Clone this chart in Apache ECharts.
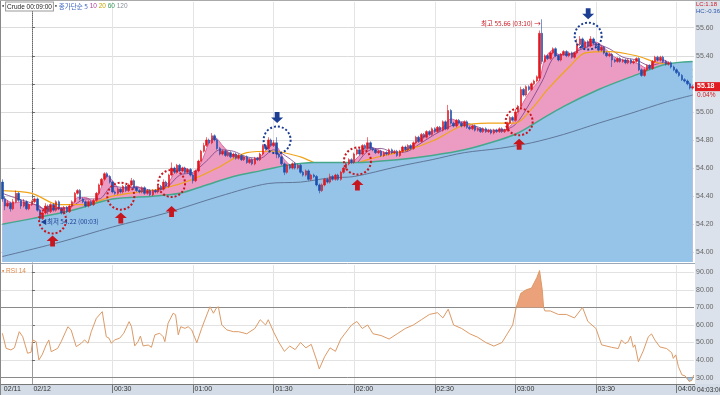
<!DOCTYPE html>
<html><head><meta charset="utf-8">
<script src="https://cdn.jsdelivr.net/npm/echarts@6/dist/echarts.min.js"></script>
<style>html,body{margin:0;padding:0;background:#fff;}#c{width:720px;height:395px;}</style>
</head><body><div id="c"></div>
<script>
// ---- data ----
const firstMinute = -11; // 23:49 on 02/11 (minutes relative to 02/12 00:00)
// [open, close, low, high], one per minute
const candles = [
[54.50,54.38,54.36,54.52],[54.38,54.33,54.30,54.40],[54.33,54.35,54.32,54.37],[54.35,54.31,54.29,54.36],[54.31,54.36,54.30,54.38],
[54.36,54.42,54.35,54.44],[54.42,54.37,54.36,54.43],[54.37,54.33,54.31,54.38],[54.33,54.36,54.32,54.38],[54.36,54.31,54.30,54.37],
[54.31,54.34,54.30,54.35],[54.34,54.36,54.33,54.37],[54.36,54.38,54.35,54.39],[54.38,54.30,54.29,54.39],[54.30,54.24,54.22,54.31],
[54.24,54.28,54.23,54.30],[54.28,54.33,54.27,54.35],[54.33,54.29,54.27,54.34],[54.29,54.34,54.28,54.35],[54.34,54.30,54.29,54.35],
[54.30,54.36,54.29,54.37],[54.36,54.31,54.30,54.37],[54.31,54.28,54.27,54.32],[54.28,54.32,54.27,54.33],[54.32,54.29,54.28,54.33],
[54.29,54.33,54.28,54.34],[54.33,54.36,54.32,54.37],[54.36,54.42,54.35,54.43],[54.42,54.44,54.41,54.45],[54.44,54.38,54.37,54.45],
[54.38,54.36,54.35,54.39],[54.36,54.33,54.32,54.37],[54.33,54.36,54.32,54.37],[54.36,54.34,54.33,54.37],[54.34,54.37,54.33,54.38],
[54.37,54.42,54.36,54.43],[54.42,54.48,54.41,54.49],[54.48,54.52,54.47,54.53],[54.52,54.56,54.51,54.57],[54.56,54.54,54.53,54.57],
[54.54,54.50,54.49,54.55],[54.50,54.43,54.42,54.51],[54.43,54.42,54.41,54.44],[54.42,54.45,54.41,54.46],[54.45,54.43,54.42,54.46],
[54.43,54.47,54.42,54.48],[54.47,54.44,54.43,54.48],[54.44,54.48,54.43,54.49],[54.48,54.51,54.47,54.53],[54.51,54.46,54.45,54.52],
[54.46,54.44,54.43,54.47],[54.44,54.43,54.42,54.45],[54.43,54.46,54.42,54.47],[54.46,54.42,54.41,54.47],[54.42,54.44,54.41,54.45],
[54.44,54.41,54.40,54.45],[54.41,54.44,54.40,54.45],[54.44,54.43,54.42,54.45],[54.43,54.47,54.42,54.48],[54.47,54.45,54.44,54.48],
[54.45,54.50,54.44,54.52],[54.50,54.47,54.46,54.51],[54.47,54.55,54.46,54.56],[54.55,54.60,54.54,54.64],[54.60,54.57,54.56,54.61],
[54.57,54.62,54.56,54.63],[54.62,54.58,54.57,54.63],[54.58,54.60,54.57,54.61],[54.60,54.57,54.56,54.61],[54.57,54.59,54.56,54.60],
[54.59,54.55,54.54,54.60],[54.55,54.51,54.49,54.56],[54.51,54.58,54.50,54.59],[54.58,54.65,54.57,54.66],[54.65,54.72,54.64,54.73],
[54.72,54.76,54.71,54.78],[54.76,54.80,54.75,54.82],[54.80,54.78,54.77,54.81],[54.78,54.83,54.77,54.85],[54.83,54.80,54.79,54.84],
[54.80,54.74,54.73,54.81],[54.74,54.70,54.69,54.75],[54.70,54.72,54.69,54.73],[54.72,54.69,54.68,54.73],[54.69,54.71,54.68,54.72],
[54.71,54.68,54.67,54.72],[54.68,54.70,54.67,54.71],[54.70,54.67,54.66,54.71],[54.67,54.69,54.66,54.70],[54.69,54.66,54.65,54.70],
[54.66,54.68,54.65,54.69],[54.68,54.64,54.63,54.69],[54.64,54.66,54.63,54.67],[54.66,54.63,54.62,54.67],[54.63,54.67,54.62,54.68],
[54.67,54.66,54.65,54.68],[54.66,54.70,54.65,54.71],[54.70,54.76,54.69,54.77],[54.76,54.74,54.73,54.77],[54.74,54.80,54.73,54.82],
[54.80,54.76,54.75,54.81],[54.76,54.78,54.75,54.80],[54.78,54.70,54.67,54.82],[54.70,54.68,54.67,54.71],[54.68,54.63,54.62,54.69],
[54.63,54.57,54.55,54.64],[54.57,54.62,54.56,54.63],[54.62,54.60,54.59,54.63],[54.60,54.63,54.59,54.64],[54.63,54.60,54.59,54.64],
[54.60,54.62,54.59,54.63],[54.62,54.57,54.56,54.63],[54.57,54.55,54.54,54.58],[54.55,54.58,54.54,54.59],[54.58,54.52,54.51,54.59],
[54.52,54.55,54.51,54.56],[54.55,54.54,54.53,54.56],[54.54,54.48,54.47,54.55],[54.48,54.44,54.42,54.49],[54.44,54.48,54.43,54.49],
[54.48,54.52,54.47,54.53],[54.52,54.50,54.49,54.53],[54.50,54.54,54.49,54.56],[54.54,54.52,54.51,54.55],[54.52,54.55,54.51,54.56],
[54.55,54.52,54.51,54.56],[54.52,54.57,54.51,54.58],[54.57,54.60,54.56,54.61],[54.60,54.63,54.59,54.64],[54.63,54.66,54.62,54.67],
[54.66,54.64,54.63,54.67],[54.64,54.70,54.63,54.71],[54.70,54.73,54.69,54.74],[54.73,54.70,54.69,54.74],[54.70,54.76,54.69,54.77],
[54.76,54.74,54.73,54.77],[54.74,54.78,54.73,54.82],[54.78,54.74,54.73,54.79],[54.74,54.73,54.72,54.75],[54.73,54.71,54.70,54.74],
[54.71,54.72,54.70,54.73],[54.72,54.69,54.68,54.73],[54.69,54.71,54.68,54.72],[54.71,54.70,54.69,54.72],[54.70,54.73,54.69,54.74],
[54.73,54.71,54.70,54.74],[54.71,54.72,54.70,54.73],[54.72,54.69,54.68,54.73],[54.69,54.72,54.68,54.73],[54.72,54.75,54.71,54.76],
[54.75,54.73,54.72,54.76],[54.73,54.76,54.72,54.77],[54.76,54.74,54.73,54.77],[54.74,54.78,54.73,54.79],[54.78,54.82,54.77,54.83],
[54.82,54.79,54.78,54.83],[54.79,54.84,54.78,54.85],[54.84,54.82,54.81,54.85],[54.82,54.86,54.81,54.87],[54.86,54.84,54.83,54.87],
[54.84,54.88,54.83,54.89],[54.88,54.86,54.85,54.89],[54.86,54.89,54.85,54.90],[54.89,54.87,54.86,54.90],[54.87,54.93,54.86,54.94],
[54.93,54.88,54.87,54.94],[54.88,55.01,54.87,55.05],[55.01,54.92,54.91,55.02],[54.92,54.90,54.89,54.93],[54.90,54.94,54.89,54.95],
[54.94,54.92,54.91,54.95],[54.92,54.90,54.89,54.93],[54.90,54.93,54.89,54.94],[54.93,54.89,54.88,54.94],[54.89,54.88,54.87,54.90],
[54.88,54.90,54.87,54.91],[54.90,54.87,54.86,54.91],[54.87,54.88,54.86,54.89],[54.88,54.86,54.85,54.89],[54.86,54.88,54.85,54.89],
[54.88,54.86,54.85,54.89],[54.86,54.87,54.85,54.88],[54.87,54.85,54.84,54.88],[54.85,54.87,54.84,54.88],[54.87,54.86,54.85,54.88],
[54.86,54.88,54.85,54.89],[54.88,54.86,54.85,54.89],[54.86,54.87,54.85,54.88],[54.87,54.92,54.86,54.93],[54.92,54.96,54.91,54.97],
[54.96,54.94,54.93,54.97],[54.94,55.00,54.93,55.02],[55.00,55.04,54.99,55.05],[55.04,55.16,55.03,55.18],[55.16,55.12,55.11,55.17],
[55.12,55.18,55.11,55.19],[55.18,55.16,55.15,55.19],[55.16,55.20,55.15,55.21],[55.20,55.22,55.19,55.23],[55.22,55.25,55.21,55.26],
[55.24,55.56,55.22,55.58],[55.56,55.36,55.34,55.66],[55.36,55.40,55.35,55.41],[55.40,55.38,55.37,55.41],[55.38,55.42,55.37,55.43],
[55.42,55.45,55.41,55.46],[55.45,55.40,55.39,55.46],[55.40,55.37,55.36,55.41],[55.37,55.41,55.36,55.42],[55.41,55.43,55.40,55.44],
[55.43,55.40,55.39,55.44],[55.40,55.42,55.39,55.43],[55.42,55.39,55.38,55.43],[55.39,55.42,55.38,55.43],[55.42,55.48,55.41,55.52],
[55.48,55.52,55.47,55.54],[55.52,55.46,55.45,55.53],[55.46,55.50,55.45,55.51],[55.50,55.47,55.46,55.51],[55.47,55.52,55.46,55.54],
[55.52,55.49,55.48,55.53],[55.49,55.47,55.46,55.50],[55.47,55.44,55.43,55.48],[55.44,55.46,55.43,55.47],[55.46,55.42,55.41,55.47],
[55.42,55.40,55.39,55.43],[55.40,55.41,55.39,55.42],[55.41,55.37,55.32,55.42],[55.37,55.36,55.35,55.38],[55.36,55.38,55.35,55.39],
[55.38,55.36,55.35,55.39],[55.36,55.37,55.35,55.38],[55.37,55.35,55.34,55.38],[55.35,55.37,55.34,55.38],[55.37,55.35,55.34,55.38],
[55.35,55.36,55.34,55.37],[55.36,55.38,55.35,55.39],[55.38,55.30,55.29,55.39],[55.30,55.26,55.25,55.31],[55.26,55.30,55.25,55.31],
[55.30,55.33,55.29,55.34],[55.33,55.31,55.30,55.34],[55.31,55.36,55.30,55.37],[55.36,55.39,55.35,55.40],[55.39,55.37,55.36,55.40],
[55.37,55.39,55.36,55.40],[55.39,55.36,55.35,55.40],[55.36,55.34,55.33,55.37],[55.34,55.35,55.33,55.36],[55.35,55.32,55.31,55.36],
[55.32,55.30,55.29,55.33],[55.30,55.28,55.27,55.31],[55.28,55.26,55.25,55.29],[55.26,55.23,55.22,55.27],[55.23,55.22,55.21,55.24],
[55.22,55.20,55.19,55.23],[55.20,55.17,55.16,55.21],[55.17,55.18,55.16,55.19]
];
// moving averages: [minute, value]
const ma5 = [[-11,54.40],[-7,54.35],[-4,54.36],[-1,54.34],[2,54.34],[5,54.30],[8,54.31],[11,54.32],[14,54.31],[17,54.39],[20,54.39],[23,54.36],[26,54.47],[28,54.55],[30,54.51],[33,54.45],[36,54.46],[39,54.47],[42,54.44],[45,54.43],[48,54.45],[51,54.50],[54,54.59],[57,54.60],[60,54.56],[63,54.64],[66,54.78],[68,54.82],[71,54.76],[74,54.70],[77,54.69],[80,54.67],[83,54.66],[86,54.70],[89,54.77],[91,54.76],[94,54.66],[97,54.61],[100,54.60],[103,54.57],[106,54.53],[109,54.49],[112,54.51],[115,54.54],[118,54.60],[120,54.65],[123,54.71],[126,54.75],[129,54.73],[132,54.71],[135,54.71],[138,54.72],[141,54.75],[144,54.80],[147,54.84],[150,54.87],[153,54.89],[156,54.95],[159,54.93],[162,54.91],[165,54.89],[168,54.87],[171,54.86],[174,54.87],[177,54.88],[180,54.95],[183,55.07],[186,55.16],[189,55.23],[191,55.38],[194,55.44],[196,55.41],[199,55.41],[202,55.42],[205,55.48],[208,55.50],[211,55.49],[214,55.44],[217,55.39],[220,55.37],[223,55.36],[226,55.34],[229,55.31],[232,55.36],[235,55.37],[238,55.34],[241,55.29],[244,55.23],[246,55.19]];
const ma10 = [[-11,54.42],[-5,54.38],[0,54.35],[5,54.31],[10,54.31],[15,54.33],[20,54.38],[25,54.38],[30,54.47],[35,54.46],[40,54.46],[45,54.44],[50,54.46],[55,54.55],[60,54.57],[65,54.65],[70,54.73],[75,54.72],[80,54.68],[85,54.67],[90,54.73],[95,54.68],[100,54.61],[105,54.57],[110,54.50],[115,54.53],[120,54.61],[125,54.72],[130,54.74],[135,54.71],[140,54.72],[145,54.78],[150,54.84],[155,54.89],[160,54.93],[165,54.90],[170,54.87],[175,54.87],[180,54.91],[185,55.05],[190,55.22],[195,55.40],[200,55.41],[205,55.45],[210,55.48],[215,55.45],[220,55.39],[225,55.37],[230,55.33],[235,55.35],[240,55.33],[246,55.25]];
const ma20 = [[-11,54.44],[0,54.42],[10,54.34],[20,54.34],[30,54.40],[40,54.43],[50,54.46],[60,54.52],[70,54.61],[80,54.71],[90,54.72],[100,54.68],[105,54.64],[115,54.60],[125,54.66],[140,54.73],[150,54.80],[160,54.90],[170,54.92],[180,54.92],[186,55.02],[192,55.16],[200,55.32],[206,55.42],[215,55.43],[225,55.40],[233,55.35],[240,55.33],[246,55.30]];
const ma60 = [[-11,54.20],[0,54.24],[15,54.30],[30,54.38],[45,54.40],[55,54.42],[65,54.48],[75,54.54],[85,54.58],[95,54.62],[105,54.64],[120,54.64],[136,54.66],[149,54.69],[161,54.73],[174,54.80],[181,54.85],[189,54.94],[198,55.04],[211,55.16],[223,55.25],[236,55.34],[246,55.36]];
const ma120 = [[-11,53.97],[10,54.07],[30,54.18],[50,54.28],[70,54.40],[88,54.49],[100,54.50],[111,54.53],[120,54.54],[136,54.61],[149,54.66],[161,54.71],[174,54.74],[186,54.78],[198,54.84],[211,54.92],[223,54.99],[236,55.07],[246,55.12]];
// RSI 14: [minute, value]
const rsi14 = [[-11,55.3],[-9.6,46.7],[-7.8,45.8],[-6.5,47],[-4.7,56.2],[-3.4,53.3],[-1.6,43.9],[-0.3,44.5],[0.3,51.5],[1.6,50.5],[2.6,40.1],[3.8,43],[5.3,48.6],[6.3,51.5],[7.2,44.8],[7.8,43.9],[9.6,46.7],[10.9,50.5],[13.4,59],[14.6,57.2],[16.5,47.7],[18.4,49.6],[19.6,51.5],[20.9,49.6],[22.1,56.2],[24,63.8],[26.2,67.6],[26.7,68.5],[27.7,53.3],[28.7,52.5],[29.6,49.6],[30.8,51.5],[32.7,52.5],[34.2,55.3],[36.2,61.9],[37.1,59],[38.3,48.1],[39.5,50.5],[40.4,53.7],[41.4,48.1],[43.3,48.6],[44.5,47.3],[45.8,54.4],[47.6,55.3],[48.9,53.3],[49.5,50.5],[50.7,61],[52.6,66.7],[53.5,65.8],[54.5,54.4],[55.4,59],[57,58.1],[58.2,59],[59.5,57.2],[61.4,49.9],[63.2,58.1],[65.1,65.7],[66.3,70.4],[67.6,66.7],[68.6,69.5],[69.4,70.4],[70.7,60],[72.6,57.2],[75,56.2],[76.9,56.2],
[80,55],[83,58],[85,63],[87,60],[88,63],[90,56],[92,50],[94,45],[96,48],[98,46],[100,50],[102,47],[104,49],[106,40],[107,35],[109,42],[111,47],[113,45],[115,52],[117,56],[119,60],[121,62],[123,58],[125,60],[127,55],[130,54],[133,52],[136,55],[139,58],[142,60],[145,63],[148,66],[151,67],[153,64],[155,69],[157,60],[160,58],[163,55],[166,53],[169,50],[172,48],[175,50],[177,55],[179,60],[180.3,70],[182,78],[184,80],[186,81],[188,87],[189,91],[190,80],[190.5,70],[191,68],[193,68],[196,66],[199,66],[202,64],[205,70],[207,62],[210,58],
[212.1,48.7],[215.8,47.3],[218.3,46.6],[219.5,51.5],[220.8,49.4],[222,50.5],[222.9,53.7],[223.9,47.3],[224.5,48.7],[225.8,39.1],[227.6,45.2],[229.5,53.3],[230.7,54.9],[231.9,51.5],[233.8,47.5],[236.3,46.6],[238.2,44.2],[238.8,41],[239.7,43],[240.7,36.3],[242,31.6],[243.2,31],[244.7,27.9],[245.7,28.5],[246.4,31.5]];
const rsiOverbought = [[180.3,70],[182,78],[184,80],[186,81],[188,87],[189,91],[190,80],[190.5,70]];
const rsiOversold = [[243.5,30],[244.7,27.9],[245.7,28.5],[246.1,30]];
// axis ticks
const tickMinutes = [-11,0,30,60,90,120,150,180,210,240];
const tickLabels = ['02/11','02/12','00:30','01:00','01:30','02:00','02:30','03:00','03:30','04:00'];
const gridMinutes = [30,60,90,120,150,180,210,240];
const priceGrid = [54.0,54.2,54.4,54.6,54.8,55.0,55.2,55.4,55.6];
const priceLabels = [54.0,54.2,54.4,54.6,54.8,55.0,55.4,55.6];
const rsiGrid = [30,40,50,60,70,80,90];
// annotations [minute, price]
const buyMarks = [[7.7,54.23],[33.1,54.40],[52,54.49],[121.2,54.65],[181.4,54.93]];
const buyArrows = [[7.7,54.08],[33.1,54.245],[52,54.29],[121.2,54.48],[181.4,54.77]];
const sellMarks = [[91.3,54.80],[207.1,55.54]];
const sellArrows = [[91.3,54.96],[207.1,55.70]];
const lowPoint = [3, 54.22], highPoint = [190, 55.66];

// ---- chart ----
const lastMinute = firstMinute + candles.length - 1;
const categories = candles.map((_, i) => { const t = (firstMinute + i + 1440) % 1440; return String(Math.floor(t/60)).padStart(2,'0') + ':' + String(t%60).padStart(2,'0'); });
const xMin = firstMinute - 0.5, xMax = lastMinute + 0.5;
const pMin = 53.931, pMax = 55.783, rMin = 26.41, rMax = 94.15;
const F = 'Liberation Sans, Arial, sans-serif';
const NF = 'Liberation Sans Narrow, Liberation Sans, sans-serif';
const KF = 'Noto Sans CJK KR, sans-serif';
const chart = echarts.init(document.getElementById('c'), null, {renderer:'canvas'});
const circleStyle = c => ({color:'rgba(0,0,0,0)', borderColor:c, borderWidth:2, borderType:'dotted'});
const upPath = 'path://M5,0L10,5L7,5L7,10L3,10L3,5L0,5Z';
const downPath = 'path://M3,0L7,0L7,5L10,5L5,10L0,5L3,5Z';
const marks = [];
buyMarks.forEach(c => marks.push({coord:c, symbol:'circle', symbolSize:27, itemStyle:circleStyle('#c8161e')}));
sellMarks.forEach(c => marks.push({coord:c, symbol:'circle', symbolSize:27, itemStyle:circleStyle('#1c3f94')}));
buyArrows.forEach(c => marks.push({coord:c, symbol:upPath, symbolSize:[12,11], itemStyle:{color:'#c8161e'}}));
sellArrows.forEach(c => marks.push({coord:c, symbol:downPath, symbolSize:[12,11], itemStyle:{color:'#1c3f94'}}));
marks.push({coord:lowPoint, symbol:'rect', symbolSize:1, itemStyle:{color:'rgba(0,0,0,0)'}, label:{show:true, position:'right', distance:0, formatter:'◀최저 54.22 (00:03)', color:'#1c3f94', fontSize:6.5, fontFamily:KF}});
marks.push({coord:highPoint, symbol:'rect', symbolSize:1, itemStyle:{color:'rgba(0,0,0,0)'}, label:{show:true, position:'left', distance:1, offset:[0,4], formatter:'최고 55.66 (03:10) →', color:'#c8161e', fontSize:6.5, fontFamily:KF}});

const lineS = (data, color, width, z, extra) => Object.assign({type:'line', xAxisIndex:1, yAxisIndex:0, data, symbol:'none', smooth:0.3, z, silent:true, lineStyle:{color, width}}, extra||{});

const option = {
  animation:false,
  backgroundColor:'#ffffff',
  grid:[{left:1, right:26, top:2, height:260}, {left:1, right:26, top:265, height:119}],
  xAxis:[
    {type:'category', gridIndex:0, data:categories, boundaryGap:true, show:false},
    {type:'value', gridIndex:0, min:xMin, max:xMax, axisLine:{show:false}, axisLabel:{show:false},
     axisTick:{show:false, customValues:gridMinutes}, splitLine:{show:true, lineStyle:{color:'#e4e4e4'}}},
    {type:'value', gridIndex:1, min:xMin, max:xMax, axisLine:{show:false},
     axisTick:{show:true, customValues:gridMinutes, length:9, lineStyle:{color:'#777'}},
     axisLabel:{customValues:tickMinutes, formatter:v => tickLabels[tickMinutes.indexOf(v)] || '', align:'left', fontSize:7, color:'#333', margin:2, padding:[0,0,0,1.5], fontFamily:NF},
     splitLine:{show:true, lineStyle:{color:'#e4e4e4'}}}
  ],
  yAxis:[
    {type:'value', gridIndex:0, position:'right', min:pMin, max:pMax,
     axisLine:{show:true, lineStyle:{color:'#666', type:'dotted'}},
     axisTick:{show:true, customValues:priceGrid, length:3, lineStyle:{color:'#666'}},
     axisLabel:{customValues:priceLabels, formatter:v => v.toFixed(2), fontSize:7, color:'#666', margin:2, fontFamily:F},
     splitLine:{show:true, lineStyle:{color:'#dcdcdc'}}},
    {type:'value', gridIndex:1, position:'right', min:rMin, max:rMax,
     axisLine:{show:true, lineStyle:{color:'#666', type:'dotted'}},
     axisTick:{show:true, customValues:rsiGrid, length:3, lineStyle:{color:'#666'}},
     axisLabel:{customValues:rsiGrid, formatter:v => v.toFixed(2), fontSize:7, color:'#666', margin:2, fontFamily:F},
     splitLine:{show:true, lineStyle:{color:'#e2e2e2'}}}
  ],
  series:[
    lineS(ma5, '#d8679f', 1, 1, {areaStyle:{color:'#ec9cc2', opacity:1, origin:'start'},
      markLine:{silent:true, symbol:'none', z:0, label:{show:false}, lineStyle:{color:'#999', type:'dotted', width:1}, data:[{xAxis:0}]}}),
    lineS(ma10, '#7a3f86', 0.8, 1),
    lineS(ma20, '#f0a41a', 1.2, 1),
    lineS(ma60, '#45a88c', 1.5, 2, {areaStyle:{color:'#96c3e8', opacity:1, origin:'start'}}),
    lineS(ma120, '#5f7898', 1, 3, {markPoint:{silent:true, z:6, data:marks, label:{show:false}}}),
    {type:'candlestick', xAxisIndex:0, yAxisIndex:0, data:candles, barWidth:2, z:4, silent:true,
     itemStyle:{color:'#e2161d', color0:'#1b4fae', borderColor:'#e2161d', borderColor0:'#1b4fae', borderWidth:0.6}},
    {type:'line', xAxisIndex:2, yAxisIndex:1, data:rsiOverbought, symbol:'none', z:2, silent:true,
     lineStyle:{width:0}, areaStyle:{color:'#eba27a', opacity:1, origin:70}},
    {type:'line', xAxisIndex:2, yAxisIndex:1, data:rsiOversold, symbol:'none', z:2, silent:true,
     lineStyle:{width:0}, areaStyle:{color:'#9fcbee', opacity:1, origin:30}},
    {type:'line', xAxisIndex:2, yAxisIndex:1, data:rsi14, symbol:'none', z:3, silent:true,
     lineStyle:{color:'#dd9a66', width:1},
     markLine:{silent:true, symbol:'none', z:1, label:{show:false}, animation:false,
       data:[{yAxis:70, lineStyle:{color:'#8a8a8a', width:1, type:'solid'}},
             {yAxis:30, lineStyle:{color:'#8a8a8a', width:1, type:'solid'}},
             {xAxis:0, lineStyle:{color:'#999', width:1, type:'dotted'}}]}}
  ]
};
chart.setOption(option);
// current price box positioned through the price scale
const lastClose = candles[candles.length-1][1];
const py = chart.convertToPixel({gridIndex:0}, [lastMinute, lastClose])[1];
chart.setOption({graphic:[
  {id:'bgR', type:'rect', z:-10, shape:{x:695, y:0, width:25, height:395}, style:{fill:'#dbe2eb'}},
  {id:'bgB', type:'rect', z:-10, shape:{x:0, y:384, width:720, height:11}, style:{fill:'#d3dce7'}},
  {id:'l1', type:'line', z:50, shape:{x1:0, y1:384.5, x2:695, y2:384.5}, style:{stroke:'#777', lineWidth:1}},
  {id:'l2', type:'line', z:50, shape:{x1:0, y1:263.5, x2:695, y2:263.5}, style:{stroke:'#9aa8b8', lineWidth:1}},
  {id:'l3', type:'line', z:50, shape:{x1:0.5, y1:0, x2:0.5, y2:395}, style:{stroke:'#888', lineWidth:1}},
  {id:'l4', type:'line', z:50, shape:{x1:0, y1:0.5, x2:720, y2:0.5}, style:{stroke:'#aaa', lineWidth:1}},
  {id:'leg', type:'text', z:60, left:2, top:1.5, style:{
     text:'▪ {box|Crude 00:09:00} ▪ {k|종가단순 5} {c10|10} {c20|20} {c60|60} {c120|120}',
     fill:'#555', font:'6.5px '+NF,
     rich:{box:{backgroundColor:'#fff', borderColor:'#999', borderWidth:1, padding:[1,1,0,1], fill:'#222', fontSize:6.5, fontFamily:NF},
           k:{fill:'#3a64c0', fontSize:6.5, fontFamily:KF}, c10:{fill:'#b0409a', fontSize:6.5}, c20:{fill:'#c9a400', fontSize:6.5},
           c60:{fill:'#3b9a5e', fontSize:6.5}, c120:{fill:'#8a8f99', fontSize:6.5}}}},
  {id:'rsiL', type:'text', z:60, left:2, top:268, style:{text:'▪ RSI 14', fill:'#e08a4a', font:'6.5px '+F}},
  {id:'lc', type:'text', z:60, left:696, top:1.5, style:{text:'LC:1.18', fill:'#c8161e', font:'6px '+NF}},
  {id:'hc', type:'text', z:60, left:696, top:8, style:{text:'HC:-0.36', fill:'#2a56a8', font:'6px '+NF}},
  {id:'tnow', type:'text', z:60, left:697, top:386.5, style:{text:'04:03:00', fill:'#333', font:'6.5px '+NF}},
  {id:'pbox', type:'rect', z:70, shape:{x:695, y:py-4.5, width:25, height:9}, style:{fill:'#e01b22'}},
  {id:'ptxt', type:'text', z:71, left:697, top:py-3.8, style:{text:lastClose.toFixed(2), fill:'#fff', font:'bold 7px '+F}},
  {id:'pchg', type:'text', z:71, left:697, top:py+5, style:{text:'0.04%', fill:'#d01a20', font:'6.5px '+F}}
]});
</script></body></html>
